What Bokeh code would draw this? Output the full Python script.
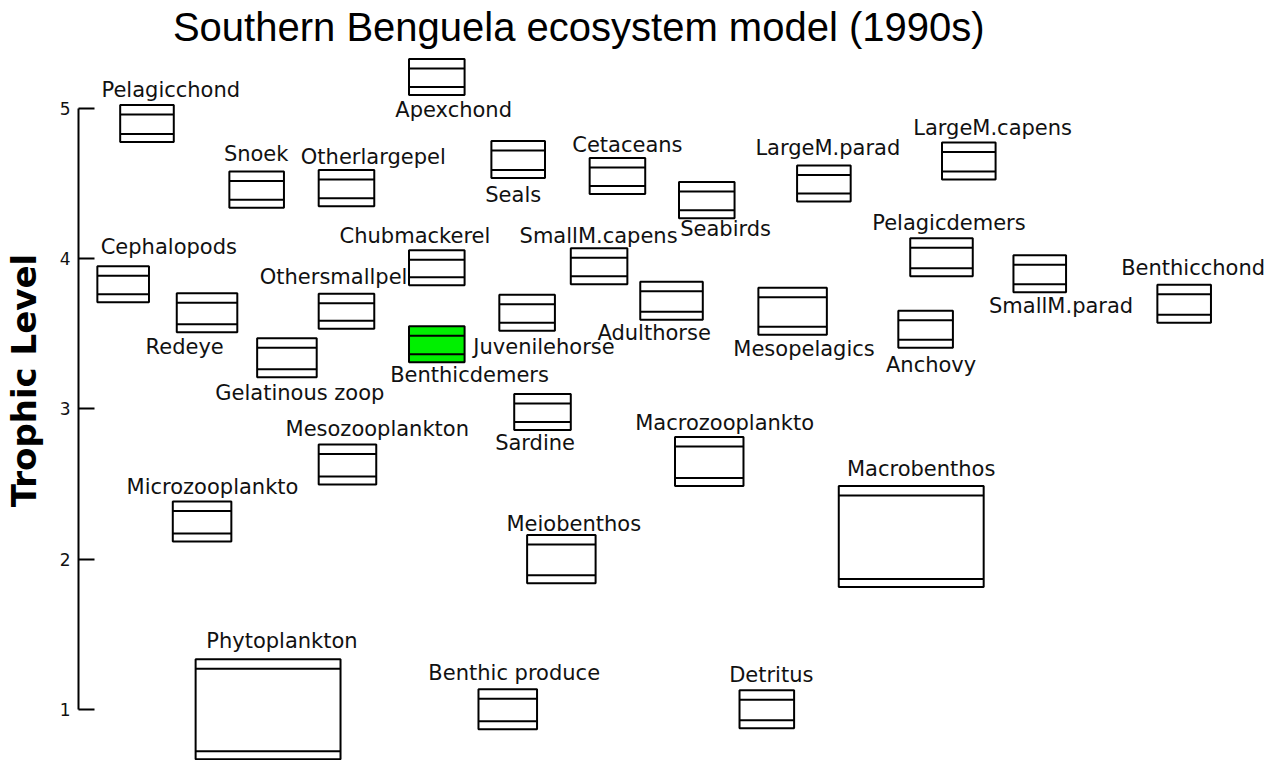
from bokeh.plotting import figure
from bokeh.models import Range1d, Label, FixedTicker, ColumnDataSource
from bokeh.embed import file_html
from bokeh.resources import INLINE
from bokeh.core.properties import value

title_text = "Southern Benguela ecosystem model (1990s)"

groups = ["Pelagicchond", "Apexchond", "Snoek", "Otherlargepel", "Seals", "Cetaceans",
          "Seabirds", "LargeM.parad", "LargeM.capens", "Cephalopods", "Redeye",
          "Othersmallpel", "Chubmackerel", "Gelatinous zoop", "Benthicdemers",
          "Juvenilehorse", "SmallM.capens", "Adulthorse", "Mesopelagics", "Pelagicdemers",
          "SmallM.parad", "Benthicchond", "Anchovy", "Sardine", "Mesozooplankton",
          "Microzooplankto", "Macrozooplankto", "Meiobenthos", "Macrobenthos",
          "Phytoplankton", "Benthic produce", "Detritus"]

# trophic level (box centre)
trophic_level = [4.90, 5.21, 4.46, 4.47, 4.66, 4.55, 4.39, 4.50, 4.65, 3.83, 3.64,
                 3.65, 3.94, 3.34, 3.43, 3.64, 3.95, 3.72, 3.65, 4.01, 3.90, 3.70,
                 3.53, 2.98, 2.63, 2.25, 2.65, 2.00, 2.15, 1.00, 1.00, 1.00]

# horizontal placement of each box (diagram units)
x_pos = [146, 438, 256.5, 347, 520, 620, 710, 828, 974, 122, 206.5, 347, 438, 287,
         438, 529, 601.5, 674.5, 796.5, 946.5, 1045.5, 1191, 930.5, 544.5, 348, 201.5,
         712.5, 563.5, 916, 268, 509.5, 770.5]

# box width (diagram units) and box height (trophic-level units), proportional to biomass
box_w = [54, 56, 55, 56, 54, 56, 56, 54, 54, 52, 61, 56, 56, 60, 56, 56, 57, 63, 69, 63,
         53, 54, 55, 57, 58, 59, 69, 69, 146, 146, 59, 55]
box_h = [0.246, 0.240, 0.240, 0.240, 0.246, 0.240, 0.240, 0.240, 0.246, 0.240, 0.260,
         0.233, 0.233, 0.260, 0.240, 0.240, 0.240, 0.253, 0.313, 0.253, 0.246, 0.253,
         0.246, 0.240, 0.266, 0.266, 0.326, 0.320, 0.672, 0.666, 0.266, 0.253]

# label anchor (diagram units / trophic-level units)
label_x = [170, 455, 256, 374, 515, 630, 729, 832, 998, 168, 184, 334, 416, 300, 471,
           546, 601, 657, 808, 954, 1067, 1200, 936, 537, 378, 212, 728, 576, 926, 282,
           516, 775]
label_tl = [5.126, 4.987, 4.694, 4.680, 4.421, 4.754, 4.201, 4.740, 4.873, 4.075,
            3.409, 3.881, 4.148, 3.109, 3.229, 3.415, 4.154, 3.502, 3.402, 4.241,
            3.682, 3.935, 3.289, 2.770, 2.863, 2.483, 2.909, 2.237, 2.603, 1.458,
            1.239, 1.226]

highlight = "Benthicdemers"

# ---- derived geometry from the data ----
px = 1 / 150.2          # trophic-level units per pixel on this layout
top_gap = 9.5 * px
bot_gap = 8.0 * px
left = [x - w / 2 for x, w in zip(x_pos, box_w)]
right = [x + w / 2 for x, w in zip(x_pos, box_w)]
top = [t + h / 2 for t, h in zip(trophic_level, box_h)]
bottom = [t - h / 2 for t, h in zip(trophic_level, box_h)]
fills = ["#00f000" if g == highlight else "white" for g in groups]

src = ColumnDataSource(dict(left=left, right=right, top=top, bottom=bottom, fill=fills,
                            line1=[t - top_gap for t in top],
                            line2=[b + bot_gap for b in bottom]))
lab = ColumnDataSource(dict(x=label_x, y=label_tl, text=groups))

y_top = 5 + 108 * px
y_bot = 5 - 652 * px

p = figure(width=1272, height=760, output_backend="svg", toolbar_location=None,
           x_range=Range1d(77, 1280), y_range=Range1d(y_bot, y_top),
           x_axis_type=None, min_border_left=69, min_border_right=0,
           min_border_top=0, min_border_bottom=0)
p.outline_line_color = None
p.grid.visible = False
p.background_fill_color = "white"
p.border_fill_color = "white"

p.quad(left="left", right="right", top="top", bottom="bottom", source=src,
       fill_color="fill", line_color="black", line_width=2)
p.segment(x0="left", x1="right", y0="line1", y1="line1", source=src,
          line_color="black", line_width=2)
p.segment(x0="left", x1="right", y0="line2", y1="line2", source=src,
          line_color="black", line_width=2)

p.text(x="x", y="y", text="text", source=lab, text_align="center",
       text_baseline="middle", text_font=value("DejaVu Sans"),
       text_font_size="21px", text_color="#111111")

ax = p.yaxis[0]
ax.ticker = FixedTicker(ticks=[1, 2, 3, 4, 5])
ax.bounds = (1, 5)
ax.major_tick_in = 16
ax.major_tick_out = 0
ax.minor_tick_line_color = None
ax.axis_line_width = 2
ax.major_tick_line_width = 2
ax.major_label_standoff = 8
ax.major_label_text_font = "DejaVu Sans"
ax.major_label_text_font_size = "17px"
ax.major_label_text_color = "#111111"
ax.axis_label = "Trophic Level"
ax.axis_label_text_font = "DejaVu Sans"
ax.axis_label_text_font_style = "bold"
ax.axis_label_text_font_size = "34px"
ax.axis_label_standoff = 13
ax.axis_label_text_color = "black"

title_y = 5 + 82 * px
p.add_layout(Label(x=581, y=title_y, text=title_text, text_align="center",
                   text_baseline="middle", text_font="Liberation Sans",
                   text_font_size="40px", text_color="black"))

open("out.html", "w").write(file_html(p, INLINE))
